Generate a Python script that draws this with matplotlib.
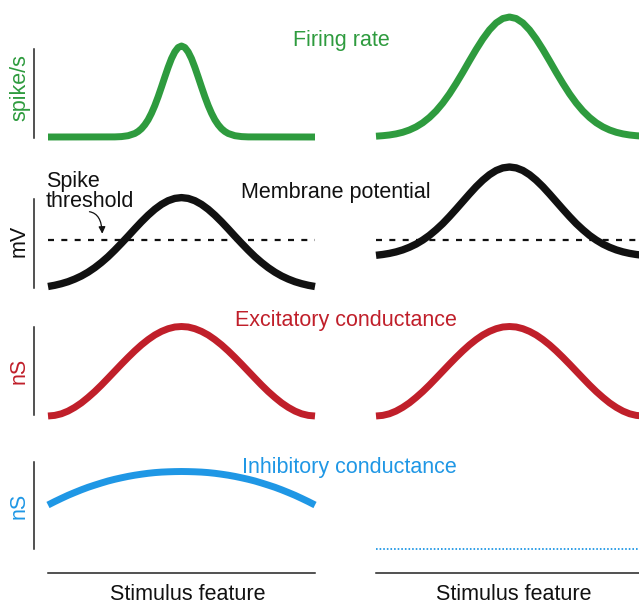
import numpy as np
import matplotlib
matplotlib.use("Agg")
import matplotlib.pyplot as plt

plt.rcParams['font.family'] = ['Liberation Sans', 'DejaVu Sans']

W, H = 639, 605

# stimulus feature axis (normalized 0..1), 41 samples
stim = np.linspace(0.0, 1.0, 41)

# firing rate (spike/s, arbitrary units); left curve sampled more densely around its narrow peak
fr_left_stim = [0.0, 0.25, 0.275, 0.3, 0.325, 0.3375, 0.35, 0.3625, 0.375, 0.3875, 0.4, 0.4125, 0.425,
                0.4375, 0.45, 0.4625, 0.475, 0.4875, 0.5,
                0.5125, 0.525, 0.5375, 0.55, 0.5625, 0.575, 0.5875, 0.6, 0.6125, 0.625, 0.6375, 0.65,
                0.6625, 0.675, 0.7, 0.725, 0.75, 1.0]
fr_left = [0.0, 0.1, 0.4, 1.3, 3.5, 5.5, 8.3, 12.2, 17.2, 23.7, 31.4, 40.3, 50.0, 60.0, 69.7, 78.4,
           85.1, 89.5, 91.0,
           89.5, 85.1, 78.4, 69.7, 60.0, 50.0, 40.3, 31.4, 23.7, 17.2, 12.2, 8.3, 5.5, 3.5, 1.3, 0.4,
           0.1, 0.0]
fr_right = [0.8, 1.3, 2.0, 3.1, 4.7, 7.0, 10.1, 14.2, 19.5, 26.0, 33.9, 43.1, 53.5, 64.6, 76.2, 87.5,
            98.0, 107.1, 114.1, 118.5, 120.0,
            118.5, 114.1, 107.1, 98.0, 87.5, 76.2, 64.6, 53.5, 43.1, 33.9, 26.0, 19.5, 14.2, 10.1,
            7.0, 4.7, 3.1, 2.0, 1.3, 0.8]

# membrane potential (mV, arbitrary units above left resting level)
vm_left = [0.5, 1.7, 3.3, 5.3, 7.9, 11.0, 14.8, 19.3, 24.5, 30.3, 36.8, 43.7, 50.8, 58.1, 65.2, 71.8,
           77.7, 82.6, 86.3, 88.6, 89.4,
           88.6, 86.3, 82.6, 77.7, 71.8, 65.2, 58.1, 50.8, 43.7, 36.8, 30.3, 24.5, 19.3, 14.8, 11.0,
           7.9, 5.3, 3.3, 1.7, 0.5]
vm_right = [31.7, 32.5, 33.6, 35.1, 37.1, 39.7, 42.9, 46.9, 51.6, 57.2, 63.4, 70.4, 77.8, 85.4, 93.0,
            100.3, 106.8, 112.3, 116.5, 119.1, 120.0,
            119.1, 116.5, 112.3, 106.8, 100.3, 93.0, 85.4, 77.8, 70.4, 63.4, 57.2, 51.6, 46.9, 42.9,
            39.7, 37.1, 35.1, 33.6, 32.5, 31.7]
spike_threshold = 46.5

# excitatory conductance (nS, arbitrary units)
ge_left = [0.0, 0.6, 2.2, 4.9, 8.6, 13.1, 18.5, 24.4, 30.9, 37.8, 44.8, 51.8, 58.6, 65.1, 71.1, 76.4,
           81.0, 84.6, 87.3, 89.0, 89.5,
           89.0, 87.3, 84.6, 81.0, 76.4, 71.1, 65.1, 58.6, 51.8, 44.8, 37.8, 30.9, 24.4, 18.5, 13.1,
           8.6, 4.9, 2.2, 0.6, 0.0]
ge_right = [0.0, 0.6, 2.2, 4.9, 8.6, 13.1, 18.5, 24.4, 30.9, 37.8, 44.8, 51.8, 58.6, 65.1, 71.1, 76.4,
            81.0, 84.6, 87.3, 89.0, 89.5,
            89.0, 87.3, 84.6, 81.0, 76.4, 71.1, 65.1, 58.6, 51.8, 44.8, 37.8, 30.9, 24.4, 18.5, 13.1,
            8.6, 4.9, 2.2, 0.6, 0.0]

# inhibitory conductance (nS, arbitrary units)
gi_left = [44.0, 47.4, 50.6, 53.7, 56.5, 59.2, 61.7, 63.9, 66.0, 68.0, 69.7, 71.2, 72.6, 73.8, 74.8,
           75.7, 76.4, 76.9, 77.2, 77.4, 77.5,
           77.4, 77.2, 76.9, 76.4, 75.7, 74.8, 73.8, 72.6, 71.2, 69.7, 68.0, 66.0, 63.9, 61.7, 59.2,
           56.5, 53.7, 50.6, 47.4, 44.0]
gi_right_stim = [0.0, 1.0]
gi_right = [0.0, 0.0]

row_titles = ["Firing rate", "Membrane potential", "Excitatory conductance", "Inhibitory conductance"]
row_units = ["spike/s", "mV", "nS", "nS"]
xlabel = "Stimulus feature"

GREEN = '#2e9b3e'
BLACK = '#111111'
RED = '#c01f2a'
BLUE = '#1f97e5'
AX = '#222222'
FS = 15.5

fig = plt.figure(figsize=(W / 100, H / 100), dpi=100)


def fx(x):
    return x / W


def fy(y):
    return 1 - y / H


def make_ax(x0, top, bottom, base):
    ax = fig.add_axes([fx(x0), fy(bottom), 267 / W, (bottom - top) / H])
    ax.set_xlim(0, 1)
    ax.set_ylim(base - bottom, base - top)
    ax.patch.set_visible(False)
    for s in ax.spines.values():
        s.set_visible(False)
    ax.set_xticks([])
    ax.set_yticks([])
    return ax


rows = [(5, 145, 137), (155, 295, 287), (315, 425, 416), (455, 573, 549)]
spine_bounds = [(-1, 88), (-1, 88), (1, 89), (0, 87)]
axes = []
for (top, bottom, base) in rows:
    axes.append((make_ax(48, top, bottom, base), make_ax(376, top, bottom, base)))

LW = 5.0
kw = dict(solid_capstyle='butt', solid_joinstyle='round', clip_on=False)

# row 1: firing
axes[0][0].plot(fr_left_stim, fr_left, color=GREEN, lw=LW, **kw)
axes[0][1].plot(stim, fr_right, color=GREEN, lw=LW, **kw)
# row 2: membrane
for ax, vm in zip(axes[1], (vm_left, vm_right)):
    ax.axhline(spike_threshold, color=BLACK, lw=1.6, dashes=(2.7, 3.3), clip_on=False)
    ax.plot(stim, vm, color=BLACK, lw=5.3, **kw)
# row 3: excitatory
axes[2][0].plot(stim, ge_left, color=RED, lw=LW, **kw)
axes[2][1].plot(stim, ge_right, color=RED, lw=LW, **kw)
# row 4: inhibitory
axes[3][0].plot(stim, gi_left, color=BLUE, lw=LW, **kw)
axes[3][1].plot(gi_right_stim, gi_right, color=BLUE, lw=1.3, linestyle=(0, (0.9, 1.1)), clip_on=False)

# left y spines
for (ax, _), b in zip(axes, spine_bounds):
    sp = ax.spines['left']
    sp.set_visible(True)
    sp.set_position(('outward', 14 * 0.72))
    sp.set_bounds(*b)
    sp.set_color(AX)
    sp.set_linewidth(1.1)
# bottom x axes
for ax in axes[3]:
    sp = ax.spines['bottom']
    sp.set_visible(True)
    sp.set_color(AX)
    sp.set_linewidth(1.1)

# titles
fig.text(fx(341.7), fy(45.7), row_titles[0], color=GREEN, fontsize=FS, ha='center', va='baseline')
fig.text(fx(335.8), fy(198.3), row_titles[1], color=BLACK, fontsize=FS, ha='center', va='baseline')
fig.text(fx(345.5), fy(326.0), row_titles[2], color=RED, fontsize=FS, ha='center', va='baseline')
fig.text(fx(349.7), fy(472.5), row_titles[3], color=BLUE, fontsize=FS, ha='center', va='baseline')

# unit labels
unit_pos = [(20, 87.5, GREEN), (19, 241, BLACK), (19, 371, RED), (19, 505.5, BLUE)]
for lab, (x, y, c) in zip(row_units, unit_pos):
    fig.text(fx(x), fy(y), lab, color=c, fontsize=FS, rotation=90, ha='center', va='center')

# x labels
fig.text(fx(187.5), fy(600), xlabel, color=BLACK, fontsize=FS, ha='center', va='baseline')
fig.text(fx(513.3), fy(600), xlabel, color=BLACK, fontsize=FS, ha='center', va='baseline')

# spike threshold annotation
fig.text(fx(45.7), fy(187.3), "Spike", color=BLACK, fontsize=FS, ha='left', va='baseline')
fig.text(fx(45.7), fy(206.7), "threshold", color=BLACK, fontsize=FS, ha='left', va='baseline')
fig.add_artist(matplotlib.patches.FancyArrowPatch(
    (86.7, H - 211.5), (102.3, H - 236.5), transform=None,
    arrowstyle='-|>,head_length=4,head_width=2', connectionstyle='angle3,angleA=0,angleB=90',
    color=BLACK, lw=0.9))

fig.savefig('out.png', dpi=100)
